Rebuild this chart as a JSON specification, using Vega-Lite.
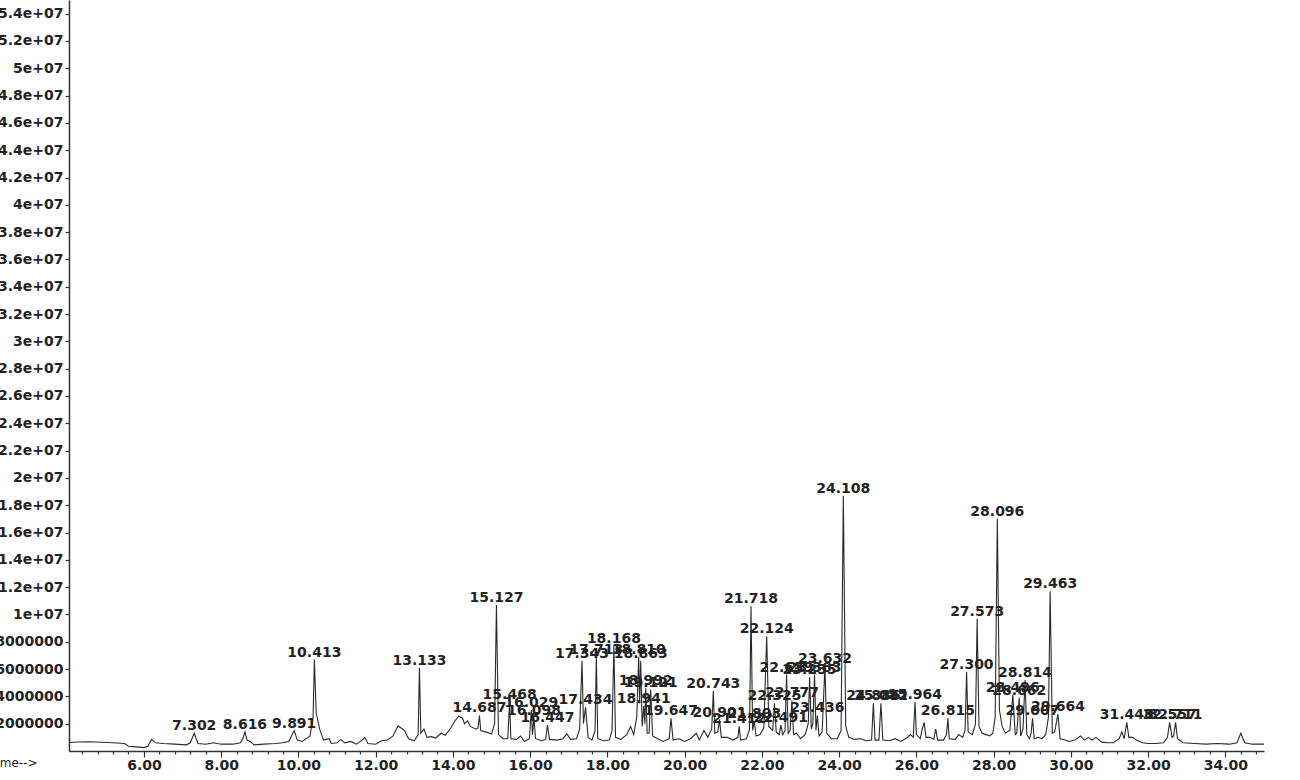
{
  "$schema": "https://vega.github.io/schema/vega-lite/v6.json",
  "autosize": "none",
  "width": 1195,
  "height": 751,
  "padding": {"left": 69, "top": 0, "right": 36, "bottom": 29},
  "background": "white",
  "config": {
    "view": {"stroke": null},
    "axis": {"grid": false, "domainColor": "#333", "tickColor": "#333", "labelColor": "#222", "labelFont": "DejaVu Sans", "labelFontWeight": "bold", "labelFontSize": 14}
  },
  "datasets": {
    "trace": [
      {"t":4.06,"a":0.62e6},{"t":4.3,"a":0.66e6},{"t":4.6,"a":0.68e6},{"t":4.9,"a":0.64e6},{"t":5.2,"a":0.6e6},{"t":5.5,"a":0.55e6},{"t":5.6,"a":0.35e6},{"t":5.8,"a":0.3e6},{"t":6.0,"a":0.25e6},{"t":6.1,"a":0.35e6},{"t":6.2,"a":0.85e6},{"t":6.3,"a":0.6e6},{"t":6.5,"a":0.55e6},{"t":6.8,"a":0.5e6},{"t":7.1,"a":0.45e6},{"t":7.2,"a":0.6e6},{"t":7.302,"a":1.3e6},{"t":7.4,"a":0.55e6},{"t":7.6,"a":0.5e6},{"t":7.8,"a":0.6e6},{"t":8.0,"a":0.5e6},{"t":8.3,"a":0.5e6},{"t":8.5,"a":0.6e6},{"t":8.56,"a":0.9e6},{"t":8.616,"a":1.4e6},{"t":8.67,"a":0.8e6},{"t":8.75,"a":0.7e6},{"t":8.85,"a":0.45e6},{"t":9.1,"a":0.5e6},{"t":9.4,"a":0.55e6},{"t":9.6,"a":0.6e6},{"t":9.75,"a":0.7e6},{"t":9.891,"a":1.5e6},{"t":9.97,"a":0.8e6},{"t":10.1,"a":0.7e6},{"t":10.3,"a":1.1e6},{"t":10.38,"a":2.5e6},{"t":10.413,"a":6.7e6},{"t":10.46,"a":2.8e6},{"t":10.55,"a":1.6e6},{"t":10.65,"a":0.8e6},{"t":10.8,"a":0.9e6},{"t":10.85,"a":0.55e6},{"t":11.0,"a":0.6e6},{"t":11.1,"a":0.85e6},{"t":11.2,"a":0.6e6},{"t":11.35,"a":0.7e6},{"t":11.5,"a":0.5e6},{"t":11.65,"a":0.8e6},{"t":11.72,"a":1.0e6},{"t":11.8,"a":0.55e6},{"t":12.0,"a":0.5e6},{"t":12.15,"a":0.75e6},{"t":12.3,"a":0.8e6},{"t":12.45,"a":1.1e6},{"t":12.58,"a":1.85e6},{"t":12.65,"a":1.7e6},{"t":12.75,"a":1.5e6},{"t":12.85,"a":0.9e6},{"t":13.0,"a":0.75e6},{"t":13.1,"a":1.2e6},{"t":13.133,"a":6.1e6},{"t":13.17,"a":1.3e6},{"t":13.25,"a":1.6e6},{"t":13.33,"a":1.0e6},{"t":13.45,"a":1.05e6},{"t":13.55,"a":0.95e6},{"t":13.7,"a":1.3e6},{"t":13.8,"a":1.15e6},{"t":13.95,"a":1.7e6},{"t":14.05,"a":2.2e6},{"t":14.15,"a":2.55e6},{"t":14.25,"a":2.4e6},{"t":14.3,"a":2.0e6},{"t":14.38,"a":2.2e6},{"t":14.45,"a":1.8e6},{"t":14.6,"a":1.6e6},{"t":14.65,"a":1.7e6},{"t":14.687,"a":2.6e6},{"t":14.72,"a":1.5e6},{"t":14.85,"a":1.4e6},{"t":15.0,"a":1.25e6},{"t":15.08,"a":2.0e6},{"t":15.127,"a":10.7e6},{"t":15.18,"a":1.2e6},{"t":15.3,"a":0.9e6},{"t":15.42,"a":0.9e6},{"t":15.468,"a":3.6e6},{"t":15.5,"a":0.9e6},{"t":15.65,"a":0.85e6},{"t":15.75,"a":1.1e6},{"t":15.85,"a":0.7e6},{"t":15.98,"a":0.9e6},{"t":16.029,"a":3.0e6},{"t":16.06,"a":1.2e6},{"t":16.098,"a":2.4e6},{"t":16.14,"a":0.9e6},{"t":16.3,"a":0.75e6},{"t":16.4,"a":0.85e6},{"t":16.447,"a":1.9e6},{"t":16.5,"a":0.85e6},{"t":16.7,"a":0.8e6},{"t":16.85,"a":0.9e6},{"t":16.95,"a":1.25e6},{"t":17.05,"a":0.85e6},{"t":17.2,"a":0.9e6},{"t":17.28,"a":1.6e6},{"t":17.343,"a":6.6e6},{"t":17.38,"a":2.0e6},{"t":17.434,"a":3.2e6},{"t":17.5,"a":1.0e6},{"t":17.6,"a":0.8e6},{"t":17.68,"a":1.5e6},{"t":17.713,"a":6.9e6},{"t":17.75,"a":0.9e6},{"t":17.9,"a":0.75e6},{"t":18.05,"a":0.8e6},{"t":18.12,"a":1.5e6},{"t":18.168,"a":7.7e6},{"t":18.21,"a":1.0e6},{"t":18.35,"a":0.85e6},{"t":18.5,"a":1.2e6},{"t":18.6,"a":1.8e6},{"t":18.68,"a":1.2e6},{"t":18.76,"a":2.5e6},{"t":18.81,"a":6.9e6},{"t":18.835,"a":3.5e6},{"t":18.863,"a":6.6e6},{"t":18.9,"a":1.8e6},{"t":18.941,"a":3.3e6},{"t":18.97,"a":2.0e6},{"t":18.992,"a":4.6e6},{"t":19.03,"a":1.3e6},{"t":19.08,"a":1.3e6},{"t":19.121,"a":4.5e6},{"t":19.17,"a":1.1e6},{"t":19.3,"a":0.9e6},{"t":19.45,"a":0.7e6},{"t":19.6,"a":0.9e6},{"t":19.647,"a":2.4e6},{"t":19.7,"a":0.8e6},{"t":19.85,"a":0.9e6},{"t":20.0,"a":0.7e6},{"t":20.15,"a":0.9e6},{"t":20.3,"a":1.3e6},{"t":20.38,"a":0.8e6},{"t":20.5,"a":1.5e6},{"t":20.6,"a":1.0e6},{"t":20.7,"a":1.6e6},{"t":20.743,"a":4.4e6},{"t":20.78,"a":1.3e6},{"t":20.86,"a":1.4e6},{"t":20.901,"a":2.3e6},{"t":20.95,"a":1.0e6},{"t":21.1,"a":1.0e6},{"t":21.25,"a":0.8e6},{"t":21.38,"a":1.0e6},{"t":21.412,"a":1.8e6},{"t":21.45,"a":0.8e6},{"t":21.6,"a":0.9e6},{"t":21.68,"a":1.6e6},{"t":21.718,"a":10.6e6},{"t":21.76,"a":1.5e6},{"t":21.803,"a":2.2e6},{"t":21.85,"a":1.1e6},{"t":21.95,"a":1.2e6},{"t":22.05,"a":1.7e6},{"t":22.124,"a":8.4e6},{"t":22.18,"a":1.8e6},{"t":22.28,"a":1.5e6},{"t":22.325,"a":3.5e6},{"t":22.37,"a":1.4e6},{"t":22.45,"a":1.2e6},{"t":22.491,"a":1.9e6},{"t":22.54,"a":1.2e6},{"t":22.6,"a":1.5e6},{"t":22.639,"a":5.6e6},{"t":22.68,"a":1.3e6},{"t":22.73,"a":1.5e6},{"t":22.777,"a":3.7e6},{"t":22.82,"a":1.2e6},{"t":22.9,"a":1.3e6},{"t":23.0,"a":0.9e6},{"t":23.12,"a":1.2e6},{"t":23.2,"a":2.0e6},{"t":23.235,"a":5.4e6},{"t":23.28,"a":1.6e6},{"t":23.32,"a":2.0e6},{"t":23.363,"a":5.6e6},{"t":23.4,"a":1.5e6},{"t":23.436,"a":2.6e6},{"t":23.48,"a":1.1e6},{"t":23.56,"a":1.4e6},{"t":23.632,"a":6.2e6},{"t":23.68,"a":1.3e6},{"t":23.8,"a":0.9e6},{"t":23.95,"a":0.9e6},{"t":24.05,"a":1.5e6},{"t":24.108,"a":18.7e6},{"t":24.17,"a":1.8e6},{"t":24.25,"a":1.0e6},{"t":24.4,"a":0.85e6},{"t":24.55,"a":0.9e6},{"t":24.7,"a":0.75e6},{"t":24.84,"a":0.8e6},{"t":24.886,"a":3.5e6},{"t":24.93,"a":0.8e6},{"t":25.03,"a":0.8e6},{"t":25.082,"a":3.5e6},{"t":25.13,"a":0.8e6},{"t":25.3,"a":0.75e6},{"t":25.45,"a":0.9e6},{"t":25.6,"a":0.7e6},{"t":25.75,"a":0.95e6},{"t":25.85,"a":1.2e6},{"t":25.92,"a":1.0e6},{"t":25.964,"a":3.6e6},{"t":26.0,"a":1.2e6},{"t":26.1,"a":0.9e6},{"t":26.15,"a":1.6e6},{"t":26.2,"a":2.1e6},{"t":26.25,"a":1.0e6},{"t":26.35,"a":1.0e6},{"t":26.45,"a":0.85e6},{"t":26.5,"a":1.6e6},{"t":26.55,"a":0.8e6},{"t":26.7,"a":0.8e6},{"t":26.78,"a":1.2e6},{"t":26.815,"a":2.4e6},{"t":26.85,"a":0.9e6},{"t":27.0,"a":0.85e6},{"t":27.1,"a":1.2e6},{"t":27.2,"a":1.0e6},{"t":27.26,"a":1.5e6},{"t":27.3,"a":5.8e6},{"t":27.34,"a":1.4e6},{"t":27.45,"a":1.2e6},{"t":27.53,"a":2.0e6},{"t":27.573,"a":9.7e6},{"t":27.62,"a":1.8e6},{"t":27.7,"a":1.3e6},{"t":27.8,"a":1.2e6},{"t":27.9,"a":1.1e6},{"t":27.98,"a":1.3e6},{"t":28.04,"a":2.5e6},{"t":28.096,"a":17.0e6},{"t":28.15,"a":3.0e6},{"t":28.22,"a":1.8e6},{"t":28.3,"a":1.3e6},{"t":28.42,"a":1.5e6},{"t":28.496,"a":4.1e6},{"t":28.56,"a":1.2e6},{"t":28.6,"a":1.3e6},{"t":28.662,"a":3.9e6},{"t":28.7,"a":1.1e6},{"t":28.76,"a":1.6e6},{"t":28.814,"a":5.2e6},{"t":28.86,"a":1.2e6},{"t":28.93,"a":0.9e6},{"t":28.97,"a":1.3e6},{"t":29.007,"a":2.4e6},{"t":29.05,"a":0.9e6},{"t":29.15,"a":1.0e6},{"t":29.25,"a":0.9e6},{"t":29.35,"a":1.2e6},{"t":29.42,"a":2.5e6},{"t":29.463,"a":11.7e6},{"t":29.52,"a":1.3e6},{"t":29.58,"a":1.4e6},{"t":29.664,"a":2.7e6},{"t":29.72,"a":0.9e6},{"t":29.85,"a":0.8e6},{"t":29.95,"a":0.7e6},{"t":30.1,"a":0.8e6},{"t":30.25,"a":1.1e6},{"t":30.35,"a":0.8e6},{"t":30.45,"a":1.0e6},{"t":30.55,"a":0.8e6},{"t":30.65,"a":1.0e6},{"t":30.8,"a":0.65e6},{"t":30.95,"a":0.6e6},{"t":31.1,"a":0.6e6},{"t":31.25,"a":0.9e6},{"t":31.32,"a":1.4e6},{"t":31.38,"a":0.9e6},{"t":31.448,"a":2.1e6},{"t":31.5,"a":1.0e6},{"t":31.6,"a":1.0e6},{"t":31.7,"a":0.8e6},{"t":31.85,"a":0.6e6},{"t":32.0,"a":0.55e6},{"t":32.2,"a":0.55e6},{"t":32.4,"a":0.6e6},{"t":32.5,"a":1.0e6},{"t":32.557,"a":2.1e6},{"t":32.62,"a":1.0e6},{"t":32.66,"a":1.1e6},{"t":32.711,"a":2.1e6},{"t":32.76,"a":0.9e6},{"t":32.9,"a":0.6e6},{"t":33.2,"a":0.55e6},{"t":33.5,"a":0.5e6},{"t":33.8,"a":0.55e6},{"t":34.1,"a":0.5e6},{"t":34.3,"a":0.6e6},{"t":34.4,"a":1.3e6},{"t":34.5,"a":0.6e6},{"t":34.7,"a":0.5e6},{"t":35.0,"a":0.5e6}
    ],
    "peaks": [
      {"t":7.302,"a":1.3e6,"label":"7.302"},{"t":8.616,"a":1.4e6,"label":"8.616"},{"t":9.891,"a":1.5e6,"label":"9.891"},{"t":10.413,"a":6.7e6,"label":"10.413"},{"t":13.133,"a":6.1e6,"label":"13.133"},{"t":14.687,"a":2.6e6,"label":"14.687"},{"t":15.127,"a":10.7e6,"label":"15.127"},{"t":15.468,"a":3.6e6,"label":"15.468"},{"t":16.029,"a":3.0e6,"label":"16.029"},{"t":16.098,"a":2.4e6,"label":"16.098"},{"t":16.447,"a":1.9e6,"label":"16.447"},{"t":17.343,"a":6.6e6,"label":"17.343"},{"t":17.434,"a":3.2e6,"label":"17.434"},{"t":17.713,"a":6.9e6,"label":"17.713"},{"t":18.168,"a":7.7e6,"label":"18.168"},{"t":18.81,"a":6.9e6,"label":"18.810"},{"t":18.863,"a":6.6e6,"label":"18.863"},{"t":18.941,"a":3.3e6,"label":"18.941"},{"t":18.992,"a":4.6e6,"label":"18.992"},{"t":19.121,"a":4.5e6,"label":"19.121"},{"t":19.647,"a":2.4e6,"label":"19.647"},{"t":20.743,"a":4.4e6,"label":"20.743"},{"t":20.901,"a":2.3e6,"label":"20.901"},{"t":21.412,"a":1.8e6,"label":"21.412"},{"t":21.718,"a":10.6e6,"label":"21.718"},{"t":21.803,"a":2.2e6,"label":"21.803"},{"t":22.124,"a":8.4e6,"label":"22.124"},{"t":22.325,"a":3.5e6,"label":"22.325"},{"t":22.491,"a":1.9e6,"label":"22.491"},{"t":22.639,"a":5.6e6,"label":"22.639"},{"t":22.777,"a":3.7e6,"label":"22.777"},{"t":23.235,"a":5.4e6,"label":"23.235"},{"t":23.363,"a":5.6e6,"label":"23.363"},{"t":23.436,"a":2.6e6,"label":"23.436"},{"t":23.632,"a":6.2e6,"label":"23.632"},{"t":24.108,"a":18.7e6,"label":"24.108"},{"t":24.886,"a":3.5e6,"label":"24.886"},{"t":25.082,"a":3.5e6,"label":"25.082"},{"t":25.964,"a":3.6e6,"label":"25.964"},{"t":26.815,"a":2.4e6,"label":"26.815"},{"t":27.3,"a":5.8e6,"label":"27.300"},{"t":27.573,"a":9.7e6,"label":"27.573"},{"t":28.096,"a":17.0e6,"label":"28.096"},{"t":28.496,"a":4.1e6,"label":"28.496"},{"t":28.662,"a":3.9e6,"label":"28.662"},{"t":28.814,"a":5.2e6,"label":"28.814"},{"t":29.007,"a":2.4e6,"label":"29.007"},{"t":29.463,"a":11.7e6,"label":"29.463"},{"t":29.664,"a":2.7e6,"label":"29.664"},{"t":31.448,"a":2.1e6,"label":"31.448"},{"t":32.557,"a":2.1e6,"label":"32.557"},{"t":32.711,"a":2.1e6,"label":"32.711"}
    ]
  },
  "encoding": {
    "x": {
      "field": "t", "type": "quantitative",
      "scale": {"domain": [4.06, 35.0], "nice": false, "zero": false},
      "axis": {
        "values": [4.4,4.8,5.2,5.6,6,6.4,6.8,7.2,7.6,8,8.4,8.8,9.2,9.6,10,10.4,10.8,11.2,11.6,12,12.4,12.8,13.2,13.6,14,14.4,14.8,15.2,15.6,16,16.4,16.8,17.2,17.6,18,18.4,18.8,19.2,19.6,20,20.4,20.8,21.2,21.6,22,22.4,22.8,23.2,23.6,24,24.4,24.8,25.2,25.6,26,26.4,26.8,27.2,27.6,28,28.4,28.8,29.2,29.6,30,30.4,30.8,31.2,31.6,32,32.4,32.8,33.2,33.6,34,34.4,34.8],
        "labelExpr": "abs(datum.value/2 - round(datum.value/2)) < 0.01 ? format(datum.value, '.2f') : ''",
        "labelOverlap": false,
        "labelFlush": false,
        "tickSize": {"condition": {"test": "abs(datum.value/2 - round(datum.value/2)) < 0.01", "value": 6}, "value": 3},
        "tickWidth": 1.2,
        "domainWidth": 1.5,
        "labelPadding": 1,
        "title": "Time-->",
        "titleFont": "DejaVu Sans",
        "titleFontSize": 12,
        "titleFontWeight": "normal",
        "titleColor": "#222",
        "titleAlign": "left",
        "titleBaseline": "middle",
        "titleAnchor": "start",
        "titleX": -80,
        "titleY": 11
      }
    },
    "y": {
      "field": "a", "type": "quantitative",
      "scale": {"domain": [0, 55000000], "nice": false, "zero": true},
      "axis": {
        "values": [2000000,4000000,6000000,8000000,10000000,12000000,14000000,16000000,18000000,20000000,22000000,24000000,26000000,28000000,30000000,32000000,34000000,36000000,38000000,40000000,42000000,44000000,46000000,48000000,50000000,52000000,54000000],
        "labelExpr": "datum.value < 1e7 ? format(datum.value, 'd') : format(datum.value/1e7, '.2~f') + 'e+07'",
        "tickSize": 4,
        "tickWidth": 1.2,
        "domainWidth": 1.5,
        "labelPadding": 2,
        "labelBaseline": "middle",
        "title": null
      }
    }
  },
  "layer": [
    {
      "data": {"name": "trace"},
      "mark": {"type": "line", "color": "#2a2a2a", "strokeWidth": 1.1, "clip": true}
    },
    {
      "data": {"name": "peaks"},
      "mark": {"type": "text", "font": "DejaVu Sans", "fontWeight": "bold", "fontSize": 14, "color": "#222", "align": "center", "baseline": "alphabetic", "dy": -3},
      "encoding": {"text": {"field": "label", "type": "nominal"}}
    }
  ]
}
